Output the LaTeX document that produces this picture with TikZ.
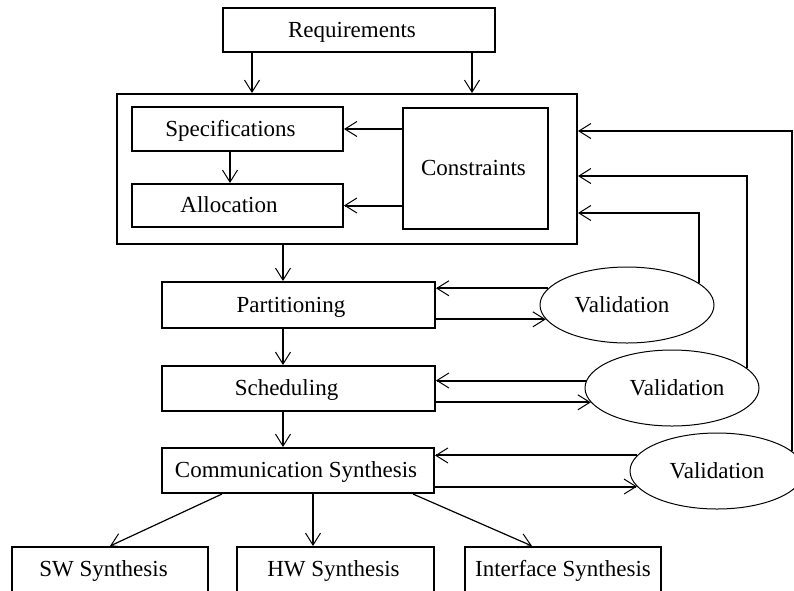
\documentclass[tikz,border=0pt]{standalone}
\usepackage{fontspec}
\setmainfont{Liberation Serif}
\usetikzlibrary{arrows.meta,shapes.geometric}
\begin{document}
\begin{tikzpicture}[x=1pt,y=-1pt,
  every node/.style={font=\fontsize{23}{27}\selectfont, inner sep=0pt, text height=14pt, text depth=0pt},
  box/.style={draw, line width=2pt, rectangle},
  oval/.style={draw, line width=1pt, ellipse, minimum width=174pt, minimum height=76pt},
  tip/.style={-{Straight Barb[length=12pt,width=15pt,line width=1pt]}},
  arr/.style={line width=2pt, tip},
  thinarr/.style={line width=1.2pt, tip}]
\useasboundingbox (0,0) rectangle (794,590);
\clip (0,0) rectangle (794,590);
\fill[white] (0,0) rectangle (794,590);

% design flow boxes (a trailing kern nudges the label a little to the left)
\node[box, minimum width=272pt, minimum height=44pt] (req) at (359,30) {Requirements\kern14pt};
\node[box, minimum width=460pt, minimum height=150pt] (outer) at (347,169) {};
\node[box, minimum width=211pt, minimum height=44pt] (spec) at (237.5,129) {Specifications\kern14pt};
\node[box, minimum width=211pt, minimum height=43pt] (alloc) at (237.5,205.5) {Allocation\kern17pt};
\node[box, minimum width=145pt, minimum height=121pt] (cons) at (475.5,168.5) {Constraints\kern4pt};
\node[box, minimum width=273pt, minimum height=46pt] (part) at (298.5,305) {Partitioning\kern15pt};
\node[box, minimum width=273pt, minimum height=45pt] (sched) at (298.5,388.5) {Scheduling\kern24pt};
\node[box, minimum width=272pt, minimum height=45pt] (comm) at (298,470.5) {Communication Synthesis\kern4pt};
\node[box, minimum width=196pt, minimum height=45pt] (sw) at (110,569.5) {SW Synthesis\kern13pt};
\node[box, minimum width=197pt, minimum height=45pt] (hw) at (335.5,569.5) {HW Synthesis\kern4pt};
\node[box, minimum width=196pt, minimum height=45pt] (intf) at (563,569.5) {Interface Synthesis};

% validation steps
\node[oval] (v1) at (627,305) {Validation\kern10pt};
\node[oval] (v2) at (672,388) {\kern10pt Validation};
\node[oval] (v3) at (717,471) {Validation};

% requirements into the specification block
\draw[arr] ([xshift=-107pt]req.south) -- ([xshift=-107pt]req.south |- outer.north);
\draw[arr] ([xshift=113pt]req.south) -- ([xshift=113pt]req.south |- outer.north);

% inside the specification block
\draw[arr] ([xshift=-7.5pt]spec.south) -- ([xshift=-7.5pt]spec.south |- alloc.north);
\draw[arr] (cons.west |- spec) -- (spec.east);
\draw[arr] (cons.west |- alloc) -- (alloc.east);

% main flow downwards
\draw[arr] ([xshift=-15.5pt]part.north |- outer.south) -- ([xshift=-15.5pt]part.north);
\draw[arr] ([xshift=-15.5pt]part.south) -- ([xshift=-15.5pt]part.south |- sched.north);
\draw[arr] ([xshift=-15.5pt]sched.south) -- ([xshift=-15.5pt]sched.south |- comm.north);

% synthesis targets
\draw[thinarr] ([xshift=-76pt]comm.south) -- (sw.north);
\draw[arr] ([xshift=15pt]comm.south) -- ([xshift=15pt]comm.south |- hw.north);
\draw[thinarr] ([xshift=115pt]comm.south) -- ([xshift=-31pt]intf.north);

% validation loops
\draw[arr] (v1.168.5) -- (v1.168.5 -| part.east);
\draw[arr] (v1.190.6 -| part.east) -- (v1.190.6);
\draw[arr] (v2.175.3) -- (v2.175.3 -| sched.east);
\draw[arr] (v2.190.6 -| sched.east) -- (v2.190.6);
\draw[arr] (v3.169.4) -- (v3.169.4 -| comm.east);
\draw[arr] (v3.191.5 -| comm.east) -- (v3.191.5);

% feedback to the specification block
\draw[arr] (v1.17.2) |- ([yshift=-44pt]outer.east);
\draw[arr] (v2.15.8) |- ([yshift=-7pt]outer.east);
\draw[arr] (v3.15.8) |- ([yshift=38pt]outer.east);
\end{tikzpicture}
\end{document}
